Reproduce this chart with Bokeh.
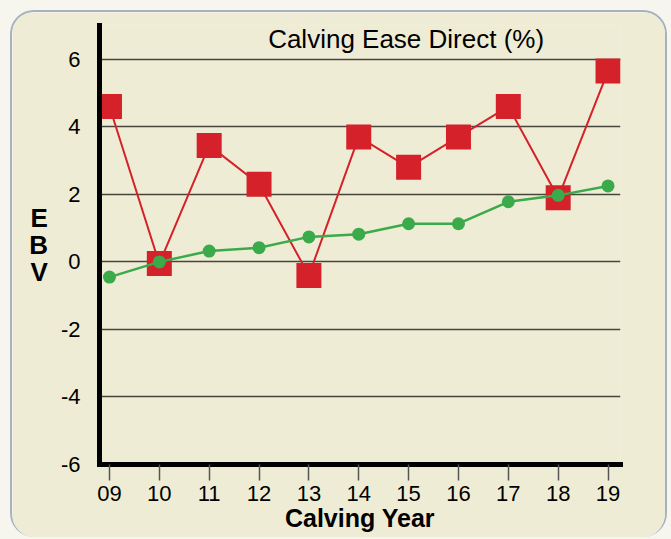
from bokeh.plotting import figure
from bokeh.models import Label, FixedTicker, Range1d
from bokeh.embed import file_html
from bokeh.resources import INLINE

# ---- data ----
years = [9, 10, 11, 12, 13, 14, 15, 16, 17, 18, 19]
year_labels = ["09", "10", "11", "12", "13", "14", "15", "16", "17", "18", "19"]
sire_ebv = [4.6, -0.05, 3.45, 2.3, -0.4, 3.7, 2.8, 3.7, 4.6, 1.9, 5.65]
breed_avg = [-0.45, 0.0, 0.32, 0.42, 0.74, 0.82, 1.13, 1.13, 1.78, 1.97, 2.25]
y_ticks = [-6, -4, -2, 0, 2, 4, 6]
chart_title = "Calving Ease Direct (%)"
x_title = "Calving Year"
y_title = "E\nB\nV"

# ---- style ----
FONT = "Liberation Sans"
CARD = "#efecd5"
RED = "#d4212a"
GREEN = "#3aaa4a"

p = figure(width=657, height=527, output_backend="svg", toolbar_location=None,
           x_range=Range1d(8.8, 19.25), y_range=Range1d(-6, 7),
           min_border_left=87, min_border_right=49, min_border_top=13,
           min_border_bottom=75)

p.background_fill_color = CARD
p.border_fill_color = CARD
p.outline_line_color = None
p.styles = {"border": "2px solid #a7b2be", "border-bottom": "none",
            "border-radius": "24px", "overflow": "hidden",
            "margin": "10px 0 0 10px"}

# grid
p.xgrid.visible = False
p.ygrid.grid_line_color = "#46463e"
p.ygrid.grid_line_width = 1.6

# x axis
xa = p.xaxis[0]
xa.ticker = FixedTicker(ticks=years)
xa.major_label_overrides = {y: l for y, l in zip(years, year_labels)}
xa.axis_line_width = 5
xa.axis_line_color = "black"
xa.axis_line_cap = "square"
xa.major_tick_in = 0
xa.major_tick_out = 16
xa.major_tick_line_color = "#555555"
xa.major_tick_line_width = 1.5
xa.minor_tick_line_color = None
xa.major_label_standoff = 5
xa.major_label_text_font = FONT
xa.major_label_text_font_size = "22px"
xa.major_label_text_color = "black"
xa.axis_label = x_title
xa.axis_label_text_font = FONT
xa.axis_label_text_font_style = "bold"
xa.axis_label_text_font_size = "25px"
xa.axis_label_text_color = "black"
xa.axis_label_standoff = 0

# y axis
ya = p.yaxis[0]
ya.ticker = FixedTicker(ticks=y_ticks)
ya.major_label_overrides = {t: str(t) for t in y_ticks}
ya.axis_line_width = 5
ya.axis_line_color = "black"
ya.axis_line_cap = "square"
ya.major_tick_line_color = None
ya.minor_tick_line_color = None
ya.major_label_standoff = 13
ya.major_label_text_font = FONT
ya.major_label_text_font_size = "22px"
ya.major_label_text_color = "black"
ya.axis_label = y_title
ya.axis_label_orientation = "horizontal"
ya.axis_label_text_font = FONT
ya.axis_label_text_font_style = "bold"
ya.axis_label_text_font_size = "26px"
ya.axis_label_text_line_height = 0.9
ya.axis_label_text_color = "black"
ya.axis_label_standoff = 10

# series
p.line(years, sire_ebv, line_color=RED, line_width=2)
p.scatter(years, sire_ebv, marker="square", size=25, fill_color=RED, line_color=None)
p.line(years, breed_avg, line_color=GREEN, line_width=2.5)
p.scatter(years, breed_avg, marker="circle", size=13, fill_color=GREEN, line_color=None)

# title inside the plot area
p.add_layout(Label(x=14.95, y=6.59, text=chart_title, text_align="center",
                   text_baseline="middle", text_font=FONT,
                   text_font_size="26px", text_color="black"))

template = """
{% block postamble %}
<style>body { background: #f7f6ee; }</style>
{% endblock %}
"""

open("out.html", "w").write(file_html(p, INLINE, template=template))
